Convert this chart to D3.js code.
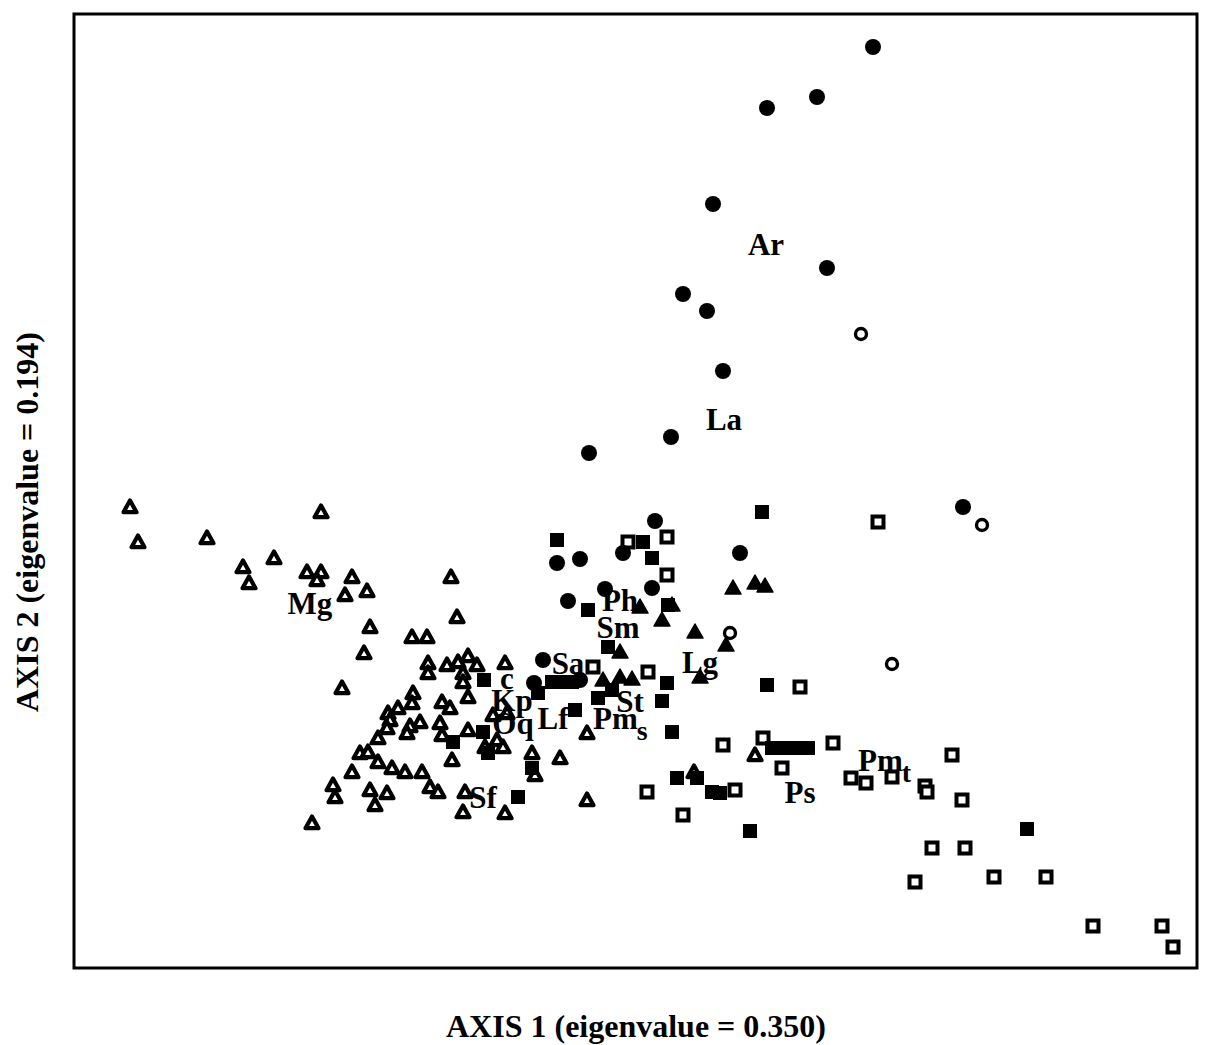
<!DOCTYPE html>
<html>
<head>
<meta charset="utf-8">
<script src="https://cdn.jsdelivr.net/npm/d3@7"></script>
<style>
  body { margin: 0; background: #fff; }
  text { font-family: "Liberation Serif", "DejaVu Serif", serif; font-weight: bold; fill: #000; }
</style>
</head>
<body>
<svg id="chart" width="1211" height="1045"></svg>
<script>
// ordination scores, [axis1, axis2]
const filledCircles = [
  [79.9, 92.1], [74.3, 87.1], [69.3, 86.0], [63.9, 76.4], [75.3, 70.0], [60.9, 67.4],
  [63.3, 65.7], [64.9, 59.7], [59.7, 53.1], [51.5, 51.5], [88.9, 46.1], [58.1, 44.7],
  [66.6, 41.5], [50.6, 40.9], [48.3, 40.5], [54.9, 41.5], [49.4, 36.7], [53.1, 37.9],
  [57.8, 38.0], [46.9, 30.8], [46.0, 28.5], [50.6, 28.8]
]
const openCircles = [[78.7, 63.4], [90.8, 44.3], [65.6, 33.5], [81.8, 30.4]]
const filledTriangles = [
  [65.9, 38.0], [68.1, 38.5], [69.1, 38.2], [62.1, 33.6], [65.2, 32.3], [58.8, 34.8],
  [59.8, 36.3], [56.6, 36.1], [54.6, 31.6], [62.6, 29.1], [52.9, 28.8], [54.6, 29.1],
  [55.8, 28.9]
]
const filledSquares = [
  [68.8, 45.6], [48.3, 42.8], [56.9, 42.6], [57.8, 41.0], [51.4, 35.8], [59.4, 36.3],
  [53.4, 32.1], [47.8, 28.6], [48.8, 28.6], [49.8, 28.6], [59.3, 28.5], [58.8, 26.7],
  [59.8, 23.6], [50.1, 25.8], [52.4, 27.0], [53.8, 27.8], [46.4, 27.5], [37.9, 22.6],
  [41.4, 21.5], [40.9, 23.6], [45.8, 20.0], [44.4, 17.1], [69.3, 28.3], [69.8, 22.0],
  [71.1, 22.0], [72.3, 22.0], [73.4, 22.0], [60.3, 19.0], [62.3, 19.0], [63.8, 17.6],
  [64.6, 17.5], [67.6, 13.7], [95.3, 13.9], [41.0, 28.8]
]
const openSquares = [
  [80.4, 44.6], [55.4, 42.6], [59.3, 43.1], [59.3, 39.3], [51.9, 30.1], [57.4, 29.6],
  [72.6, 28.1], [64.9, 22.3], [68.9, 23.0], [75.9, 22.5], [70.8, 20.0], [57.3, 17.6],
  [60.9, 15.3], [66.1, 17.8], [77.7, 19.0], [79.2, 18.5], [81.8, 19.1], [87.8, 21.3],
  [85.1, 18.2], [85.3, 17.6], [88.8, 16.8], [85.8, 12.0], [89.1, 12.0], [84.1, 8.6],
  [92.0, 9.1], [97.2, 9.1], [101.9, 4.2], [108.8, 4.2], [109.9, 2.1]
]
const openTriangles = [
  [5.6, 46.1], [6.4, 42.6], [13.3, 43.0], [16.9, 40.1], [17.5, 38.5], [20.0, 41.0],
  [24.7, 45.6], [23.3, 39.6], [24.7, 39.6], [24.3, 38.8], [27.8, 39.1], [27.1, 37.3],
  [29.3, 37.7], [29.6, 34.1], [29.0, 31.5], [33.8, 33.1], [35.3, 33.1], [37.7, 39.1],
  [38.3, 35.1], [26.8, 28.0], [35.4, 30.5], [35.4, 29.5], [37.3, 30.3], [38.4, 30.6],
  [39.4, 31.2], [40.3, 30.3], [38.9, 29.5], [38.9, 28.6], [39.4, 27.1], [43.1, 30.5],
  [33.9, 27.5], [33.8, 26.5], [36.8, 26.6], [37.6, 26.0], [32.4, 26.0], [31.4, 25.5],
  [31.6, 24.8], [31.3, 24.0], [34.6, 24.6], [33.6, 24.2], [33.3, 23.5], [36.6, 24.5],
  [36.8, 23.3], [39.4, 23.8], [41.9, 25.3], [43.3, 25.5], [41.1, 22.1], [42.3, 22.8],
  [42.9, 22.1], [30.4, 23.0], [28.6, 21.5], [29.4, 21.6], [30.4, 20.6], [27.8, 19.6],
  [31.8, 20.0], [33.1, 19.6], [34.8, 19.6], [35.6, 18.1], [36.4, 17.6], [37.8, 20.8],
  [25.9, 18.3], [26.1, 17.1], [29.6, 17.8], [31.3, 17.5], [30.1, 16.3], [39.1, 17.6],
  [38.9, 15.6], [43.1, 15.5], [23.8, 14.5], [45.8, 21.5], [48.6, 21.0], [51.3, 23.5],
  [51.3, 16.8], [68.1, 21.3], [62.0, 19.6], [46.1, 19.3]
]
// species codes: [name, subscript, axis1, axis2]
const speciesLabels = [
  ['Ar', '', 69.2, 72.4], ['La', '', 65.0, 54.9], ['Mg', '', 23.6, 36.5],
  ['Ph', '', 54.6, 36.8], ['Sm', '', 54.4, 34.1], ['Sa', '', 49.4, 30.5],
  ['Lg', '', 62.6, 30.6], ['c', '', 43.3, 29.0], ['Kp', '', 43.8, 26.8],
  ['Oq', '', 43.9, 24.5], ['Lf', '', 47.9, 25.0], ['St', '', 55.6, 26.7],
  ['Pm', 's', 54.1, 25.0], ['Ps', '', 72.6, 17.6], ['Sf', '', 40.9, 17.1],
  ['Pm', 't', 80.6, 20.8]
]
const xTitle = 'AXIS 1 (eigenvalue = 0.350)'
const yTitle = 'AXIS 2 (eigenvalue = 0.194)'

const svg = d3.select('#chart')
const box = { left: 74, top: 14, right: 1197, bottom: 968 }

const x = d3.scaleLinear().domain([0, 112.3]).range([box.left, box.right])
const y = d3.scaleLinear().domain([0, 95.4]).range([box.bottom, box.top])

svg.append('rect')
  .attr('x', box.left)
  .attr('y', box.top)
  .attr('width', box.right - box.left)
  .attr('height', box.bottom - box.top)
  .attr('fill', 'none')
  .attr('stroke', '#000')
  .attr('stroke-width', 3)

const tri = 'M0,-6.5L6.5,5.2L-6.5,5.2Z'
const triBig = 'M0,-8L8,6L-8,6Z'

svg.selectAll('.otri')
  .data(openTriangles)
  .enter()
  .append('path')
  .attr('d', tri)
  .attr('transform', d => 'translate(' + x(d[0]) + ',' + y(d[1]) + ')')
  .attr('fill', '#fff')
  .attr('stroke', '#000')
  .attr('stroke-width', 4.2)
  .attr('stroke-linejoin', 'round')

svg.selectAll('.osq')
  .data(openSquares)
  .enter()
  .append('rect')
  .attr('x', d => x(d[0]) - 5.5)
  .attr('y', d => y(d[1]) - 5.5)
  .attr('width', 11)
  .attr('height', 11)
  .attr('fill', '#fff')
  .attr('stroke', '#000')
  .attr('stroke-width', 4)

svg.selectAll('.fsq')
  .data(filledSquares)
  .enter()
  .append('rect')
  .attr('x', d => x(d[0]) - 7)
  .attr('y', d => y(d[1]) - 7)
  .attr('width', 14)
  .attr('height', 14)
  .attr('fill', '#000')

svg.selectAll('.ftri')
  .data(filledTriangles)
  .enter()
  .append('path')
  .attr('d', triBig)
  .attr('transform', d => 'translate(' + x(d[0]) + ',' + y(d[1]) + ')')
  .attr('fill', '#000')
  .attr('stroke', '#000')
  .attr('stroke-width', 1.5)
  .attr('stroke-linejoin', 'round')

svg.selectAll('.fcirc')
  .data(filledCircles)
  .enter()
  .append('circle')
  .attr('cx', d => x(d[0]))
  .attr('cy', d => y(d[1]))
  .attr('r', 8)
  .attr('fill', '#000')

svg.selectAll('.ocirc')
  .data(openCircles)
  .enter()
  .append('circle')
  .attr('cx', d => x(d[0]))
  .attr('cy', d => y(d[1]))
  .attr('r', 5.5)
  .attr('fill', '#fff')
  .attr('stroke', '#000')
  .attr('stroke-width', 3.4)

const labels = svg.selectAll('.lab')
  .data(speciesLabels)
  .enter()
  .append('text')
  .attr('x', d => x(d[2]))
  .attr('y', d => y(d[3]))
  .attr('dy', '0.35em')
  .attr('text-anchor', 'middle')
  .style('font-size', '31px')

labels.append('tspan').text(d => d[0])
labels.filter(d => d[1])
  .append('tspan')
  .attr('dy', 11)
  .attr('dx', -1)
  .style('font-size', '28px')
  .text(d => d[1])

// subscripted labels are centred on the main part only
labels.filter(d => d[1]).attr('text-anchor', 'start')
  .attr('x', d => x(d[2]) - 22)

svg.append('text')
  .attr('x', 636)
  .attr('y', 1037)
  .attr('text-anchor', 'middle')
  .style('font-size', '32px')
  .text(xTitle)

svg.append('text')
  .attr('transform', 'translate(38,522) rotate(-90)')
  .attr('text-anchor', 'middle')
  .style('font-size', '32px')
  .text(yTitle)
</script>
</body>
</html>
